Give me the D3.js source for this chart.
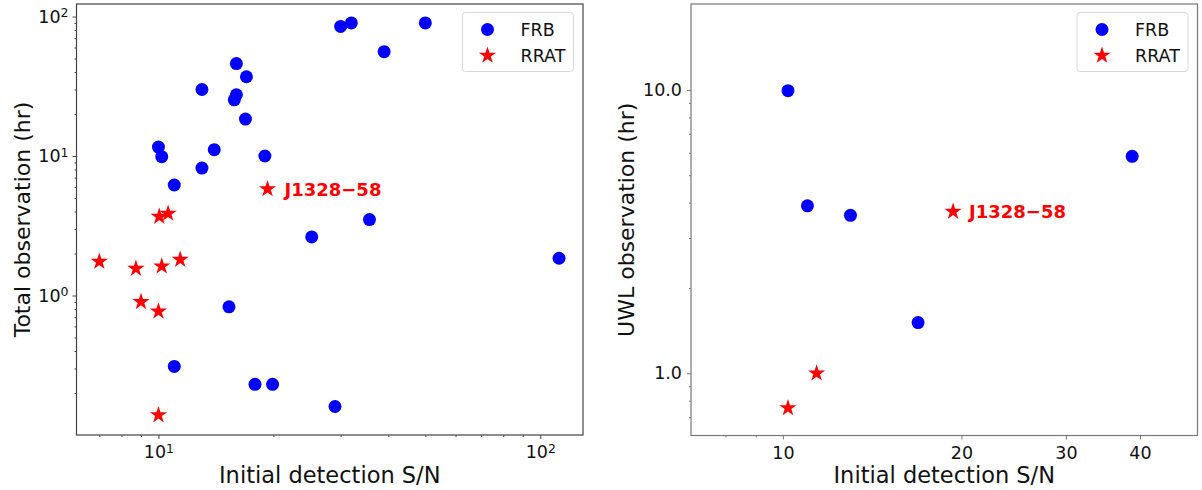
<!DOCTYPE html>
<html lang="en">
<head>
  <meta charset="UTF-8">
  <title>Initial detection S/N vs observation time</title>
  <script src="https://d3js.org/d3.v7.min.js"></script>
  <style>
    body {
      margin: 0;
      background: #fff;
      font-family: "DejaVu Sans", sans-serif;
    }
    .tick text {
      font-family: "DejaVu Sans", sans-serif;
      fill: #111;
    }
  </style>
</head>
<body>
  <svg id="chart" width="1202" height="490"></svg>

  <script>
    // left panel: total observation
    const frbSnrTotal = [30, 32, 50, 39, 16, 17, 13, 16, 15.8, 16.9, 10, 10.2, 14, 19, 13, 11, 35.7, 25.2, 112, 15.3, 11, 17.9, 19.9, 29];
    const frbHoursTotal = [85, 90, 90, 56, 46, 37, 30, 27.5, 25.3, 18.4, 11.6, 9.9, 11.1, 10, 8.2, 6.2, 3.5, 2.63, 1.85, 0.83, 0.31, 0.231, 0.231, 0.16];
    const rratSnrTotal = [19.3, 10.05, 10.6, 7.0, 8.73, 10.2, 11.4, 9.0, 10, 10];
    const rratHoursTotal = [5.8, 3.68, 3.87, 1.75, 1.56, 1.62, 1.81, 0.9, 0.77, 0.139];

    // right panel: UWL observation
    const frbSnrUwl = [10.2, 11.0, 13, 16.9, 38.8];
    const frbHoursUwl = [9.94, 3.9, 3.61, 1.51, 5.83];
    const rratSnrUwl = [19.36, 11.4, 10.2];
    const rratHoursUwl = [3.72, 1.0, 0.754];

    const highlight = "J1328\u221258";   // first RRAT in each panel
    const legendLabels = ["FRB", "RRAT"];

    const svg = d3.select("#chart");
    const blue = "#0000ff", red = "#ff0000";
    const star = d3.symbol().type(d3.symbolStar).size(92);

    function drawPanel(p) {
      const x = d3.scaleLog().domain(p.xDomain).range([p.left, p.right]);
      const y = d3.scaleLog().domain(p.yDomain).range([p.bottom, p.top]);
      const g = svg.append("g");

      // minor ticks
      g.append("g")
        .attr("transform", `translate(0,${p.bottom})`)
        .call(d3.axisBottom(x).tickValues(p.xMinor).tickSize(2).tickFormat(""))
        .call(a => a.select(".domain").remove())
        .call(a => a.selectAll("line").attr("stroke", p.frame));
      g.append("g")
        .attr("transform", `translate(${p.left},0)`)
        .call(d3.axisLeft(y).tickValues(p.yMinor).tickSize(2).tickFormat(""))
        .call(a => a.select(".domain").remove())
        .call(a => a.selectAll("line").attr("stroke", p.frame));

      // major ticks
      const xa = g.append("g")
        .attr("transform", `translate(0,${p.bottom})`)
        .call(d3.axisBottom(x).tickValues(p.xMajor).tickSize(4).tickPadding(7).tickFormat(p.xFormat || (d => d)))
        .call(a => a.select(".domain").remove());
      const ya = g.append("g")
        .attr("transform", `translate(${p.left},0)`)
        .call(d3.axisLeft(y).tickValues(p.yMajor).tickSize(4).tickPadding(p.yPad).tickFormat(p.yFormat || (d => d)))
        .call(a => a.select(".domain").remove());
      [xa, ya].forEach(a => {
        a.selectAll("line").attr("stroke", p.frame);
        a.selectAll("text").style("font-size", "17.5px");
      });

      // powers of ten get a superscript
      if (p.powers) {
        [xa, ya].forEach(a => a.selectAll(".tick text").each(function(d) {
          const t = d3.select(this).text("10");
          t.append("tspan").attr("dy", "-0.45em").style("font-size", "12.5px").text(Math.round(Math.log10(d)));
        }));
      }

      g.append("rect")
        .attr("x", p.left).attr("y", p.top)
        .attr("width", p.right - p.left).attr("height", p.bottom - p.top)
        .attr("fill", "none").attr("stroke", p.frame).attr("stroke-width", 1.2);

      // points
      g.selectAll(".frb")
        .data(d3.zip(p.frbX, p.frbY))
        .enter().append("circle")
        .attr("cx", d => x(d[0]))
        .attr("cy", d => y(d[1]))
        .attr("r", 6.5)
        .attr("fill", blue);

      g.selectAll(".rrat")
        .data(d3.zip(p.rratX, p.rratY))
        .enter().append("path")
        .attr("d", star)
        .attr("transform", d => `translate(${x(d[0])},${y(d[1])})`)
        .attr("fill", red);

      g.append("text")
        .attr("x", x(p.rratX[0]) + p.noteDx)
        .attr("y", y(p.rratY[0]))
        .attr("dy", "0.36em")
        .attr("fill", red)
        .style("font-size", "18px")
        .style("font-weight", "bold")
        .text(highlight);

      // axis labels
      g.append("text")
        .attr("x", (p.left + p.right) / 2)
        .attr("y", 483)
        .attr("text-anchor", "middle")
        .style("font-size", "22.5px")
        .attr("fill", "#111")
        .text("Initial detection S/N");
      g.append("text")
        .attr("transform", `translate(${p.yLabelX},${(p.top + p.bottom) / 2}) rotate(-90)`)
        .attr("text-anchor", "middle")
        .style("font-size", "22px")
        .attr("fill", "#111")
        .text(p.yLabel);

      // legend
      const lg = g.append("g").attr("transform", `translate(${p.legendX},12.5)`);
      lg.append("rect")
        .attr("width", 111).attr("height", 59).attr("rx", 3)
        .attr("fill", "#fff").attr("stroke", "#d8d8d8");
      lg.append("circle").attr("cx", 25).attr("cy", 17).attr("r", 6.5).attr("fill", blue);
      lg.append("path").attr("d", star).attr("transform", "translate(25,43)").attr("fill", red);
      legendLabels.forEach((name, i) => {
        lg.append("text")
          .attr("x", 58).attr("y", 17 + i * 26)
          .attr("dy", "0.36em")
          .style("font-size", "17.5px")
          .attr("fill", "#111")
          .text(name);
      });
    }

    drawPanel({
      left: 76.5, right: 583, top: 4, bottom: 435,
      xDomain: [6.1, 129.4], yDomain: [0.1, 123],
      xMajor: [10, 100], yMajor: [1, 10, 100],
      xMinor: [7, 8, 9, 20, 30, 40, 50, 60, 70, 80, 90],
      yMinor: [0.2, 0.3, 0.4, 0.5, 0.6, 0.7, 0.8, 0.9, 2, 3, 4, 5, 6, 7, 8, 9, 20, 30, 40, 50, 60, 70, 80, 90],
      powers: true, yPad: 4,
      frame: "#444",
      frbX: frbSnrTotal, frbY: frbHoursTotal,
      rratX: rratSnrTotal, rratY: rratHoursTotal,
      noteDx: 17,
      yLabel: "Total observation (hr)", yLabelX: 30,
      legendX: 462.5
    });

    drawPanel({
      left: 691, right: 1197.5, top: 4, bottom: 435.5,
      xDomain: [7, 50], yDomain: [0.603, 20.1],
      xMajor: [10, 20, 30, 40], yMajor: [1, 10],
      xMinor: [8, 9],
      yMinor: [0.7, 0.8, 0.9, 2, 3, 4, 5, 6, 7, 8, 9],
      yFormat: d3.format(".1f"), yPad: 5,
      frame: "#777",
      frbX: frbSnrUwl, frbY: frbHoursUwl,
      rratX: rratSnrUwl, rratY: rratHoursUwl,
      noteDx: 16,
      yLabel: "UWL observation (hr)", yLabelX: 634,
      legendX: 1077
    });
  </script>
</body>
</html>
